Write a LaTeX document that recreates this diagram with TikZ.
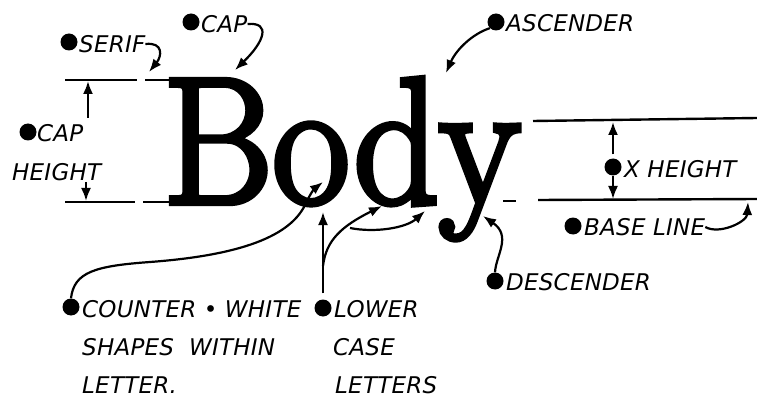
\documentclass[tikz,border=0pt]{standalone}
\usepackage{fontspec}
\usepackage{graphicx}
\usetikzlibrary{arrows.meta}
\newfontfamily\hand{DejaVu Sans}[LetterSpace=1]
\newfontfamily\bodyfont{Latin Modern Roman}[FakeBold=3.5]
\tikzset{
  lbl/.style={font=\hand\itshape\fontsize{23}{23}\selectfont, inner sep=0pt, anchor=west},
  dotn/.style={circle, fill=black, minimum size=17pt, inner sep=0pt},
  arr/.style={line width=2.2pt, -{Latex[length=13pt,width=10pt]}},
  ln/.style={line width=2.4pt},
}
\begin{document}
\begin{tikzpicture}[x=1pt,y=-1pt]
\useasboundingbox (0,0) rectangle (757,398);
% the word
\node[inner sep=0pt, anchor=base west] (body) at (163,203)
  {\bodyfont\fontsize{180}{180}\selectfont\scalebox{0.93}[1]{Body}};
% cap height guides
\coordinate (c1) at (65,80); \coordinate (c2) at (137,80);
\coordinate (c3) at (145,80); \coordinate (c4) at (173,80);
\coordinate (b1) at (65,202); \coordinate (b2) at (135,202);
\coordinate (b3) at (143,202); \coordinate (b4) at (171,202);
\draw[ln] (c1) -- (c2); \draw[ln] (c3) -- (c4);
\draw[ln] (b1) -- (b2); \draw[ln] (b3) -- (b4);
\coordinate (cu0) at (88,118); \coordinate (cu1) at (88,81);
\draw[arr] (cu0) -- (cu1);
\coordinate (cd0) at (86,182); \coordinate (cd1) at (86,201);
\draw[arr] (cd0) -- (cd1);
\node[dotn] (capdot) at (28,132) {};
\node[lbl] (captxt) at (37,133) {CAP};
\node[lbl] (heighttxt) at (12,172) {HEIGHT};
% serif
\node[dotn] (serifdot) at (69,42) {};
\node[lbl] (seriftxt) at (79,44) {SERIF};
\coordinate (seriftip) at (149,72);
\draw[arr] (seriftxt.east) .. controls +(18,-2) and (162,56) .. (seriftip);
% cap
\node[dotn] (capdot2) at (191,22) {};
\node[lbl] (captxt2) at (201,24) {CAP};
\coordinate (captip) at (235,70);
\draw[arr] (captxt2.east) .. controls +(24,-2) and (264,42) .. (captip);
% ascender
\node[dotn] (ascdot) at (496,22) {};
\node[lbl] (asctxt) at (506,23) {ASCENDER};
\coordinate (asctip) at (446,73);
\draw[arr] (ascdot.south west) .. controls (472,34) and (456,50) .. (asctip);
% x height
\coordinate (x1) at (533,121); \coordinate (x2) at (757,118);
\draw[ln] (x1) -- (x2);
\coordinate (bl1) at (538,200); \coordinate (bl2) at (757,199);
\draw[ln] (bl1) -- (bl2);
\coordinate (d1) at (503,201); \coordinate (d2) at (516,201);
\draw[ln] (d1) -- (d2);
\node[dotn] (xdot) at (613,167) {};
\node[lbl] (xtxt) at (624,169) {X HEIGHT};
\coordinate (xu) at (613,122); \coordinate (xd) at (613,199);
\draw[arr] (xdot.north) ++(0,-4) coordinate (xs) (xs) -- (xu);
\draw[arr] (xdot.south) -- (xd);
% base line
\node[dotn] (basedot) at (573,226) {};
\node[lbl] (basetxt) at (584,227) {BASE LINE};
\coordinate (basetip) at (748,202);
\draw[arr] (basetxt.east) .. controls +(14,8) and (747,222) .. (basetip);
% descender
\node[dotn] (descdot) at (495,281) {};
\node[lbl] (desctxt) at (506,282) {DESCENDER};
\coordinate (desctip) at (483,216);
\draw[arr] (descdot.north) .. controls (496,255) and (512,236) .. (desctip);
% counter
\node[dotn] (cntdot) at (71,307) {};
\node[lbl] (cnt1) at (82,309) {COUNTER • WHITE};
\node[lbl] (cnt2) at (82,347) {SHAPES\ \ WITHIN};
\node[lbl] (cnt3) at (82,385) {LETTER.};
\coordinate (cm1) at (150,262); \coordinate (cm2) at (305,205);
\coordinate (cnttip) at (323,182);
\draw[arr] (cntdot.north) .. controls (74,272) and (95,266) .. (cm1)
  .. controls (230,256) and (288,240) .. (cm2)
  .. controls (309,196) and (314,189) .. (cnttip);
% lower case
\node[dotn] (lcdot) at (323,308) {};
\node[lbl] (lc1) at (334,309) {LOWER};
\node[lbl] (lc2) at (333,347) {CASE};
\node[lbl] (lc3) at (335,385) {LETTERS};
\coordinate (lctip1) at (323,212);
\draw[arr] (lcdot.north) ++(0,-6) coordinate (lcs) (lcs) -- (lctip1);
\coordinate (lcb) at (323,266); \coordinate (lctip2) at (382,206);
\draw[arr] (lcb) .. controls (326,240) and (342,226) .. (lctip2);
\coordinate (lcb2) at (350,228); \coordinate (lctip3) at (425,211);
\draw[arr] (lcb2) .. controls (375,233) and (406,228) .. (lctip3);
\end{tikzpicture}
\end{document}
